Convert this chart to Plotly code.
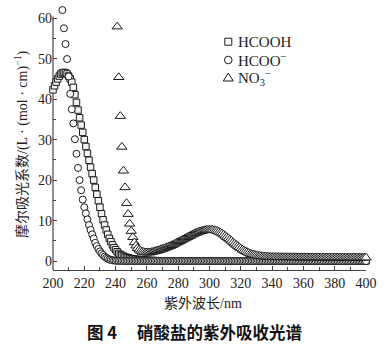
import plotly.graph_objects as go

# ---------------- data ----------------
wl_hcooh = list(range(200, 401))
hcooh = [
    42.3, 43.3, 44.2, 45.0, 45.7, 46.2, 46.5, 46.6, 46.5, 46.2,
    45.7, 45.0, 44.2, 42.9, 41.1, 39.2, 37.3, 35.4, 33.6, 31.8,
    30.0, 28.3, 26.6, 24.9, 23.2, 21.6, 20.0, 18.2, 16.5, 14.9,
    13.3, 11.7, 10.2, 8.9, 7.7, 6.6, 5.6, 4.8, 4.0, 3.3,
    2.8, 2.3, 1.9, 1.6, 1.4, 1.2, 1.0, 0.9, 0.8, 0.7,
    0.6, 0.55, 0.5, 0.45, 0.4, 0.35, 0.3, 0.27, 0.24, 0.21,
    0.19, 0.17, 0.15, 0.13, 0.12, 0.11, 0.10, 0.09, 0.08, 0.08,
    0.07, 0.07, 0.07, 0.07, 0.07, 0.07, 0.07, 0.07, 0.07, 0.07,
    0.06, 0.06, 0.06, 0.06, 0.06, 0.06, 0.06, 0.06, 0.06, 0.06,
    0.06, 0.06, 0.06, 0.06, 0.06, 0.06, 0.06, 0.06, 0.06, 0.06,
    0.05, 0.05, 0.05, 0.05, 0.05, 0.05, 0.05, 0.05, 0.05, 0.05,
    0.05, 0.05, 0.05, 0.05, 0.05, 0.05, 0.05, 0.05, 0.05, 0.05,
    0.05, 0.05, 0.05, 0.05, 0.05, 0.05, 0.05, 0.05, 0.05, 0.05,
    0.05, 0.05, 0.05, 0.05, 0.05, 0.05, 0.05, 0.05, 0.05, 0.05,
    0.04, 0.04, 0.04, 0.04, 0.04, 0.04, 0.04, 0.04, 0.04, 0.04,
    0.04, 0.04, 0.04, 0.04, 0.04, 0.04, 0.04, 0.04, 0.04, 0.04,
    0.04, 0.04, 0.04, 0.04, 0.04, 0.04, 0.04, 0.04, 0.04, 0.04,
    0.04, 0.04, 0.04, 0.04, 0.04, 0.04, 0.04, 0.04, 0.04, 0.04,
    0.04, 0.04, 0.04, 0.04, 0.04, 0.04, 0.04, 0.04, 0.04, 0.04,
    0.04, 0.04, 0.04, 0.04, 0.04, 0.04, 0.04, 0.04, 0.04, 0.04,
    0.04,
]

wl_hcoo = list(range(206, 401))
hcoo = [
    62.0, 57.5, 53.6, 49.9, 45.6, 41.3, 37.5, 34.0, 30.1, 26.5,
    23.0, 20.0, 17.5, 15.2, 13.3, 11.8, 10.3, 8.9, 7.7, 6.6,
    5.6, 4.5, 3.7, 3.0, 2.4, 1.9, 1.5, 1.1, 0.8, 0.6,
    0.4, 0.3, 0.2, 0.15, 0.1, 0.08, 0.06, 0.05, 0.04, 0.03,
    0.02, 0.02, 0.02, 0.02, 0.02, 0.02, 0.02, 0.02, 0.02, 0.02,
    0.02, 0.02, 0.02, 0.02, 0.02, 0.02, 0.02, 0.02, 0.02, 0.02,
    0.02, 0.02, 0.02, 0.02, 0.02, 0.02, 0.02, 0.02, 0.02, 0.02,
    0.02, 0.02, 0.02, 0.02, 0.02, 0.02, 0.02, 0.02, 0.02, 0.02,
    0.02, 0.02, 0.02, 0.02, 0.02, 0.02, 0.02, 0.02, 0.02, 0.02,
    0.02, 0.02, 0.02, 0.02, 0.02, 0.02, 0.02, 0.02, 0.02, 0.02,
    0.01, 0.01, 0.01, 0.01, 0.01, 0.01, 0.01, 0.01, 0.01, 0.01,
    0.01, 0.01, 0.01, 0.01, 0.01, 0.01, 0.01, 0.01, 0.01, 0.01,
    0.01, 0.01, 0.01, 0.01, 0.01, 0.01, 0.01, 0.01, 0.01, 0.01,
    0.01, 0.01, 0.01, 0.01, 0.01, 0.01, 0.01, 0.01, 0.01, 0.01,
    0.01, 0.01, 0.01, 0.01, 0.01, 0.01, 0.01, 0.01, 0.01, 0.01,
    0.01, 0.01, 0.01, 0.01, 0.01, 0.01, 0.01, 0.01, 0.01, 0.01,
    0.01, 0.01, 0.01, 0.01, 0.01, 0.01, 0.01, 0.01, 0.01, 0.01,
    0.01, 0.01, 0.01, 0.01, 0.01, 0.01, 0.01, 0.01, 0.01, 0.01,
    0.01, 0.01, 0.01, 0.01, 0.01, 0.01, 0.01, 0.01, 0.01, 0.01,
    0.01, 0.01, 0.01, 0.01, 0.01,
]

wl_no3 = list(range(241, 401))
no3 = [
    57.9, 45.4, 35.8, 28.2, 22.3, 18.2, 14.3, 11.6, 9.2, 7.4,
    5.9, 4.6, 3.8, 3.2, 2.8, 2.5, 2.3, 2.2, 2.1, 2.1,
    2.1, 2.1, 2.2, 2.3, 2.4, 2.5, 2.6, 2.7, 2.9, 3.0,
    3.1, 3.3, 3.4, 3.6, 3.7, 3.9, 4.1, 4.3, 4.5, 4.7,
    4.9, 5.1, 5.3, 5.5, 5.7, 5.9, 6.1, 6.3, 6.5, 6.7,
    6.9, 7.0, 7.2, 7.3, 7.4, 7.5, 7.6, 7.7, 7.7, 7.7,
    7.7, 7.7, 7.6, 7.5, 7.4, 7.2, 7.0, 6.8, 6.5, 6.2,
    5.9, 5.6, 5.3, 5.0, 4.6, 4.3, 4.0, 3.7, 3.4, 3.1,
    2.8, 2.6, 2.4, 2.2, 2.0, 1.8, 1.7, 1.6, 1.5, 1.4,
    1.3, 1.25, 1.2, 1.15, 1.1, 1.08, 1.05, 1.03, 1.0, 1.0,
    0.98, 0.97, 0.96, 0.96, 0.95, 0.95, 0.94, 0.94, 0.93, 0.93,
    0.93, 0.92, 0.92, 0.92, 0.91, 0.91, 0.91, 0.90, 0.90, 0.90,
    0.90, 0.89, 0.89, 0.89, 0.89, 0.88, 0.88, 0.88, 0.88, 0.88,
    0.87, 0.87, 0.87, 0.87, 0.87, 0.87, 0.86, 0.86, 0.86, 0.86,
    0.86, 0.86, 0.86, 0.85, 0.85, 0.85, 0.85, 0.85, 0.85, 0.85,
    0.85, 0.85, 0.85, 0.85, 0.85, 0.85, 0.85, 0.85, 0.85, 0.85,
]

series_names = ["HCOOH", "HCOO<sup>−</sup>", "NO<sub>3</sub><sup>−</sup>"]
x_title = "紫外波长/nm"
y_title = "摩尔吸光系数/(L · (mol · cm)<sup>−1</sup>)"
caption_fig = "<b>图 4</b>"
caption_text = "<b>硝酸盐的紫外吸收光谱</b>"

# ---------------- figure ----------------
W, H = 392, 354
ML, MR, MT, MB = 53, 26, 6, 84
PW, PH = W - ML - MR, H - MT - MB
Y_MIN, Y_MAX, Y_LINE_TOP = -2.2, 63.0, 60.4

def px(x):
    return (x - ML) / PW

def py(y):
    return (MT + PH - y) / PH

SERIF = "Liberation Serif, Times New Roman, Noto Sans CJK SC, serif"
CJK = "Noto Sans CJK SC, sans-serif"
EDGE = "#1a1a1a"
AX = "#444"

fig = go.Figure()
fig.add_trace(go.Scatter(
    x=wl_hcooh, y=hcooh, mode="markers", name=series_names[0],
    marker=dict(symbol="square", size=6.5, color="#f2f2f2",
                line=dict(color=EDGE, width=1)),
    cliponaxis=False, showlegend=False))
fig.add_trace(go.Scatter(
    x=wl_hcoo, y=hcoo, mode="markers", name=series_names[1],
    marker=dict(symbol="circle", size=7, color="#ffffff",
                line=dict(color=EDGE, width=1)),
    cliponaxis=False, showlegend=False))
fig.add_trace(go.Scatter(
    x=wl_no3, y=no3, mode="markers", name=series_names[2],
    marker=dict(symbol="triangle-up", size=9, color="#ffffff",
                line=dict(color=EDGE, width=1)),
    cliponaxis=False, showlegend=False))

axis_common = dict(
    showgrid=False, zeroline=False, ticks="inside", ticklen=4, tickwidth=1,
    tickcolor=AX, tickfont=dict(family=SERIF, size=14, color="#222"), mirror=False,
)
fig.update_xaxes(range=[200, 400], tick0=200, dtick=20, showline=True,
                 linecolor=AX, linewidth=1.2,
                 minor=dict(ticks="inside", ticklen=2.5, dtick=10, tickcolor=AX),
                 **axis_common)
fig.update_yaxes(range=[Y_MIN, Y_MAX], tick0=0, dtick=10, showline=False,
                 minor=dict(ticks="inside", ticklen=2.5, dtick=5, tickcolor=AX),
                 **axis_common)

annotations = [
    dict(text=x_title, x=px(203), y=py(303), xref="paper", yref="paper",
         showarrow=False, xanchor="center", yanchor="middle",
         font=dict(family=SERIF, size=14, color="#222")),
    dict(text=y_title, x=px(21), y=py(144), xref="paper", yref="paper",
         showarrow=False, textangle=-90, xanchor="center", yanchor="middle",
         font=dict(family=SERIF, size=14, color="#222")),
    dict(text=caption_fig, x=px(85), y=py(332), xref="paper", yref="paper",
         showarrow=False, xanchor="left", yanchor="middle",
         font=dict(family=CJK, size=16.5, color="#111")),
    dict(text=caption_text, x=px(135), y=py(332), xref="paper", yref="paper",
         showarrow=False, xanchor="left", yanchor="middle",
         font=dict(family=CJK, size=16.5, color="#111")),
]

# legend (symbol + text)
leg_rows = [41.7, 60.0, 77.5]
sym_x = px(228.3)
for name, yrow in zip(series_names, leg_rows):
    annotations.append(dict(text=name, x=px(236), y=py(yrow), xref="paper", yref="paper",
                            showarrow=False, xanchor="left", yanchor="middle",
                            font=dict(family=SERIF, size=15, color="#222")))

shapes = [
    # left axis line (stops at the top of the tick range, as in the reference)
    dict(type="line", xref="paper", yref="y", x0=0, x1=0, y0=Y_MIN, y1=Y_LINE_TOP,
         line=dict(color=AX, width=1.2), layer="below"),
    dict(type="rect", xref="paper", yref="paper", xsizemode="pixel", ysizemode="pixel",
         xanchor=sym_x, yanchor=py(leg_rows[0]), x0=-3.5, x1=3.5, y0=-3.5, y1=3.5,
         line=dict(color=EDGE, width=1), fillcolor="white"),
    dict(type="circle", xref="paper", yref="paper", xsizemode="pixel", ysizemode="pixel",
         xanchor=sym_x, yanchor=py(leg_rows[1]), x0=-3.8, x1=3.8, y0=-3.8, y1=3.8,
         line=dict(color=EDGE, width=1), fillcolor="white"),
    dict(type="path", xref="paper", yref="paper", xsizemode="pixel", ysizemode="pixel",
         xanchor=sym_x, yanchor=py(leg_rows[2]), path="M -5,-3.5 L 5,-3.5 L 0,4.5 Z",
         line=dict(color=EDGE, width=1), fillcolor="white"),
]

fig.update_layout(
    width=W, height=H, margin=dict(l=ML, r=MR, t=MT, b=MB),
    paper_bgcolor="white", plot_bgcolor="white",
    annotations=annotations, shapes=shapes, showlegend=False,
)

fig.write_html("out.html")
